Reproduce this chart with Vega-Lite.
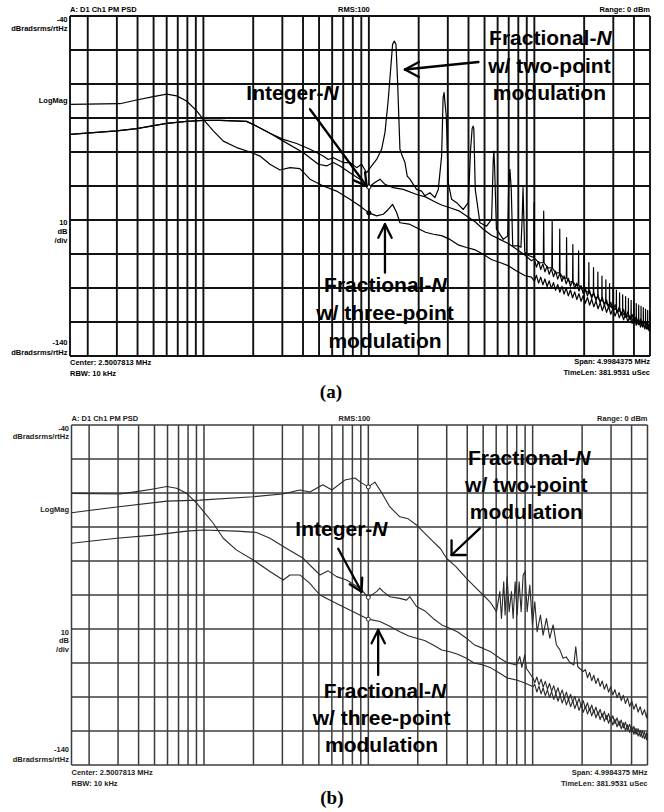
{
"$schema":"https://vega.github.io/schema/vega-lite/v6.json",
"width":664,"height":812,"autosize":"none","padding":0,"background":"white",
"config":{"view":{"stroke":null}},
"datasets":{
"gv":[{"f":1.5625},{"f":2},{"f":3},{"f":4},{"f":5},{"f":6},{"f":7},{"f":8},{"f":9},{"f":10},{"f":20},{"f":30},{"f":40},{"f":50},{"f":60},{"f":70},{"f":80},{"f":90},{"f":100},{"f":200},{"f":300},{"f":400},{"f":500},{"f":600},{"f":700},{"f":800},{"f":900},{"f":1000},{"f":2000},{"f":3000},{"f":4000},{"f":5000}],
"gh":[{"db":-40},{"db":-50},{"db":-60},{"db":-70},{"db":-80},{"db":-90},{"db":-100},{"db":-110},{"db":-120},{"db":-130},{"db":-140}],
"ca":[
{"s":"int","f":1.5625,"db":-74.8},{"s":"int","f":2.99,"db":-73.8},{"s":"int","f":3.95,"db":-73.1},{"s":"int","f":6.0,"db":-71.6},{"s":"int","f":7.92,"db":-71.0},{"s":"int","f":9.99,"db":-70.7},{"s":"int","f":12.6,"db":-70.7},{"s":"int","f":18.25,"db":-71.0},{"s":"int","f":20.98,"db":-72.4},{"s":"int","f":25.25,"db":-74.5},{"s":"int","f":30.4,"db":-76.8},{"s":"int","f":40.2,"db":-80.2},{"s":"int","f":49.5,"db":-83.6},{"s":"int","f":55.5,"db":-84.1},{"s":"int","f":60.9,"db":-83.1},{"s":"int","f":66.9,"db":-84.1},{"s":"int","f":76.8,"db":-86.1},{"s":"int","f":88.3,"db":-88.0},{"s":"int","f":100,"db":-90.3},{"s":"int","f":108.8,"db":-89.0},{"s":"int","f":116.7,"db":-88.0},{"s":"int","f":125.1,"db":-89.5},{"s":"int","f":140.4,"db":-90.5},{"s":"int","f":161.4,"db":-91.0},{"s":"int","f":194.3,"db":-92.5},{"s":"int","f":220,"db":-93.2},{"s":"int","f":245,"db":-94.4},{"s":"int","f":275,"db":-95.6},{"s":"int","f":309,"db":-96.4},{"s":"int","f":350,"db":-97.3},{"s":"int","f":389.6,"db":-98.8},{"s":"int","f":440,"db":-100.6},{"s":"int","f":491.4,"db":-102.7},{"s":"int","f":550,"db":-104.5},{"s":"int","f":619.4,"db":-105.7},{"s":"int","f":700,"db":-107.0},{"s":"int","f":781,"db":-108.6},{"s":"int","f":880,"db":-110.4},{"s":"int","f":960,"db":-112.0},
{"s":"int","f":1000,"db":-111.5},{"s":"int","f":1030,"db":-113.85},{"s":"int","f":1061,"db":-112.21},{"s":"int","f":1093,"db":-114.56},{"s":"int","f":1126,"db":-112.91},{"s":"int","f":1159,"db":-115.26},{"s":"int","f":1194,"db":-113.62},{"s":"int","f":1230,"db":-115.97},{"s":"int","f":1267,"db":-114.32},{"s":"int","f":1305,"db":-116.67},{"s":"int","f":1344,"db":-115.03},{"s":"int","f":1384,"db":-117.38},{"s":"int","f":1426,"db":-115.73},{"s":"int","f":1469,"db":-118.08},{"s":"int","f":1513,"db":-116.44},{"s":"int","f":1558,"db":-118.79},{"s":"int","f":1605,"db":-117.14},{"s":"int","f":1653,"db":-119.49},{"s":"int","f":1702,"db":-117.85},{"s":"int","f":1754,"db":-120.2},{"s":"int","f":1806,"db":-118.55},{"s":"int","f":1860,"db":-120.9},{"s":"int","f":1916,"db":-119.26},{"s":"int","f":1974,"db":-121.61},{"s":"int","f":2033,"db":-119.96},{"s":"int","f":2094,"db":-122.32},{"s":"int","f":2157,"db":-120.67},{"s":"int","f":2221,"db":-123.02},{"s":"int","f":2288,"db":-121.37},{"s":"int","f":2357,"db":-123.73},{"s":"int","f":2427,"db":-122.08},{"s":"int","f":2500,"db":-124.43},{"s":"int","f":2575,"db":-122.78},{"s":"int","f":2652,"db":-125.14},{"s":"int","f":2732,"db":-123.49},{"s":"int","f":2814,"db":-125.84},{"s":"int","f":2898,"db":-124.19},{"s":"int","f":2985,"db":-126.55},{"s":"int","f":3075,"db":-124.9},{"s":"int","f":3167,"db":-127.25},{"s":"int","f":3262,"db":-125.6},{"s":"int","f":3360,"db":-127.96},{"s":"int","f":3461,"db":-126.31},{"s":"int","f":3564,"db":-128.66},{"s":"int","f":3671,"db":-127.01},{"s":"int","f":3781,"db":-129.37},{"s":"int","f":3895,"db":-127.72},{"s":"int","f":4012,"db":-130.07},{"s":"int","f":4132,"db":-128.42},{"s":"int","f":4256,"db":-130.78},{"s":"int","f":4384,"db":-129.13},{"s":"int","f":4515,"db":-131.48},{"s":"int","f":4651,"db":-129.83},{"s":"int","f":4790,"db":-132.19},{"s":"int","f":4934,"db":-130.54},{"s":"int","f":5000,"db":-132.7},
{"s":"three","f":1.5625,"db":-66.0},{"s":"three","f":3.13,"db":-65.8},{"s":"three","f":3.95,"db":-64.7},{"s":"three","f":4.98,"db":-63.7},{"s":"three","f":6.0,"db":-63.0},{"s":"three","f":6.89,"db":-63.5},{"s":"three","f":7.92,"db":-65.0},{"s":"three","f":9.11,"db":-67.9},{"s":"three","f":9.99,"db":-70.4},{"s":"three","f":11.48,"db":-73.8},{"s":"three","f":13.19,"db":-76.8},{"s":"three","f":15.88,"db":-78.7},{"s":"three","f":19.12,"db":-80.0},{"s":"three","f":21.97,"db":-81.2},{"s":"three","f":25.25,"db":-83.6},{"s":"three","f":29.0,"db":-85.3},{"s":"three","f":33.4,"db":-84.6},{"s":"three","f":38.3,"db":-84.9},{"s":"three","f":44.1,"db":-88.0},{"s":"three","f":53.0,"db":-90.0},{"s":"three","f":63.8,"db":-91.5},{"s":"three","f":76.8,"db":-93.9},{"s":"three","f":88.3,"db":-95.9},{"s":"three","f":100,"db":-97.9},{"s":"three","f":111.4,"db":-98.8},{"s":"three","f":122.2,"db":-98.3},{"s":"three","f":131.0,"db":-96.9},{"s":"three","f":139.1,"db":-95.4},{"s":"three","f":147.1,"db":-97.8},{"s":"three","f":154.1,"db":-100.8},{"s":"three","f":175,"db":-101.2},{"s":"three","f":194.3,"db":-102.3},{"s":"three","f":220,"db":-103.6},{"s":"three","f":245,"db":-104.2},{"s":"three","f":275,"db":-104.6},{"s":"three","f":309,"db":-105.7},{"s":"three","f":350,"db":-107.4},{"s":"three","f":389.6,"db":-108.1},{"s":"three","f":440,"db":-108.8},{"s":"three","f":491.4,"db":-110.1},{"s":"three","f":550,"db":-111.6},{"s":"three","f":619.4,"db":-112.5},{"s":"three","f":700,"db":-113.5},{"s":"three","f":781,"db":-115.0},{"s":"three","f":880,"db":-116.4},{"s":"three","f":960,"db":-116.8},
{"s":"three","f":1000,"db":-118.0},{"s":"three","f":1030,"db":-116.27},{"s":"three","f":1061,"db":-118.54},{"s":"three","f":1093,"db":-116.81},{"s":"three","f":1126,"db":-119.08},{"s":"three","f":1159,"db":-117.35},{"s":"three","f":1194,"db":-119.62},{"s":"three","f":1230,"db":-117.89},{"s":"three","f":1267,"db":-120.16},{"s":"three","f":1305,"db":-118.43},{"s":"three","f":1344,"db":-120.7},{"s":"three","f":1384,"db":-118.97},{"s":"three","f":1426,"db":-121.24},{"s":"three","f":1469,"db":-119.51},{"s":"three","f":1513,"db":-121.78},{"s":"three","f":1558,"db":-120.05},{"s":"three","f":1605,"db":-122.32},{"s":"three","f":1653,"db":-120.59},{"s":"three","f":1702,"db":-122.86},{"s":"three","f":1754,"db":-121.13},{"s":"three","f":1806,"db":-123.4},{"s":"three","f":1860,"db":-121.67},{"s":"three","f":1916,"db":-123.94},{"s":"three","f":1974,"db":-122.21},{"s":"three","f":2033,"db":-124.48},{"s":"three","f":2094,"db":-122.75},{"s":"three","f":2157,"db":-125.02},{"s":"three","f":2221,"db":-123.29},{"s":"three","f":2288,"db":-125.56},{"s":"three","f":2357,"db":-123.83},{"s":"three","f":2427,"db":-126.1},{"s":"three","f":2500,"db":-124.37},{"s":"three","f":2575,"db":-126.64},{"s":"three","f":2652,"db":-124.91},{"s":"three","f":2732,"db":-127.18},{"s":"three","f":2814,"db":-125.45},{"s":"three","f":2898,"db":-127.72},{"s":"three","f":2985,"db":-125.99},{"s":"three","f":3075,"db":-128.26},{"s":"three","f":3167,"db":-126.53},{"s":"three","f":3262,"db":-128.8},{"s":"three","f":3360,"db":-127.07},{"s":"three","f":3461,"db":-129.34},{"s":"three","f":3564,"db":-127.61},{"s":"three","f":3671,"db":-129.88},{"s":"three","f":3781,"db":-128.15},{"s":"three","f":3895,"db":-130.42},{"s":"three","f":4012,"db":-128.69},{"s":"three","f":4132,"db":-130.96},{"s":"three","f":4256,"db":-129.23},{"s":"three","f":4384,"db":-131.5},{"s":"three","f":4515,"db":-129.77},{"s":"three","f":4651,"db":-132.04},{"s":"three","f":4790,"db":-130.31},{"s":"three","f":4934,"db":-132.58},{"s":"three","f":5000,"db":-131.0},
{"s":"two","f":1.5625,"db":-74.8},{"s":"two","f":2.99,"db":-73.8},{"s":"two","f":3.95,"db":-73.1},{"s":"two","f":6.0,"db":-71.6},{"s":"two","f":7.92,"db":-71.0},{"s":"two","f":9.99,"db":-70.7},{"s":"two","f":12.6,"db":-70.7},{"s":"two","f":18.25,"db":-71.0},{"s":"two","f":20.98,"db":-72.4},{"s":"two","f":25.25,"db":-74.5},{"s":"two","f":30.4,"db":-76.3},{"s":"two","f":36.6,"db":-77.5},{"s":"two","f":44.1,"db":-79.2},{"s":"two","f":53.0,"db":-81.2},{"s":"two","f":56.8,"db":-82.2},{"s":"two","f":60.9,"db":-81.7},{"s":"two","f":70.0,"db":-83.1},{"s":"two","f":76.8,"db":-83.1},{"s":"two","f":84.3,"db":-84.6},{"s":"two","f":90.4,"db":-83.6},{"s":"two","f":96.9,"db":-86.1},{"s":"two","f":103.9,"db":-84.1},{"s":"two","f":111.4,"db":-82.2},{"s":"two","f":119.4,"db":-79.2},{"s":"two","f":125.1,"db":-74.3},{"s":"two","f":131.0,"db":-64.5},{"s":"two","f":135.9,"db":-54.7},{"s":"two","f":139.1,"db":-48.3},{"s":"two","f":142.4,"db":-47.4},{"s":"two","f":145.8,"db":-48.3},{"s":"two","f":149.2,"db":-59.6},{"s":"two","f":154.1,"db":-79.2},{"s":"two","f":159.2,"db":-81.2},{"s":"two","f":165.2,"db":-83.1},{"s":"two","f":170.6,"db":-87.1},{"s":"two","f":177.2,"db":-88.0},{"s":"two","f":185.5,"db":-89.5},{"s":"two","f":194.3,"db":-91.0},{"s":"two","f":208.3,"db":-91.5},{"s":"two","f":218.1,"db":-92.9},{"s":"two","f":233.9,"db":-92.0},{"s":"two","f":250.7,"db":-93.4},{"s":"two","f":262.7,"db":-91.0},{"s":"two","f":275.2,"db":-81.2},{"s":"two","f":281.0,"db":-64.0},{"s":"two","f":284.8,"db":-62.5},{"s":"two","f":289.0,"db":-66.0},{"s":"two","f":293.6,"db":-69.4},{"s":"two","f":301.9,"db":-89.0},{"s":"two","f":316.2,"db":-93.9},{"s":"two","f":339.1,"db":-94.9},{"s":"two","f":372.0,"db":-96.9},{"s":"two","f":398.7,"db":-94.9},{"s":"two","f":411.9,"db":-79.2},{"s":"two","f":421.0,"db":-73.0},{"s":"two","f":427.2,"db":-72.4},{"s":"two","f":431.0,"db":-73.3},{"s":"two","f":439.5,"db":-91.0},{"s":"two","f":468.9,"db":-100.8},{"s":"two","f":514.5,"db":-101.8},{"s":"two","f":551.7,"db":-99.8},{"s":"two","f":564.7,"db":-82.2},{"s":"two","f":569.6,"db":-79.7},{"s":"two","f":575.0,"db":-84.1},{"s":"two","f":590.0,"db":-102.7},{"s":"two","f":648.8,"db":-105.7},{"s":"two","f":690.0,"db":-104.7},{"s":"two","f":698.9,"db":-91.0},{"s":"two","f":712.0,"db":-85.1},{"s":"two","f":725.3,"db":-91.0},{"s":"two","f":740.0,"db":-107.6},{"s":"two","f":799.2,"db":-107.6},{"s":"two","f":830.0,"db":-108.0},{"s":"two","f":845.0,"db":-98.8},{"s":"two","f":854.4,"db":-90.5},{"s":"two","f":862.0,"db":-98.0},{"s":"two","f":875.0,"db":-109.5},{"s":"two","f":930.0,"db":-110.5},
{"s":"two","f":990.8,"db":-111.0},{"s":"two","f":996.8,"db":-94.9},{"s":"two","f":1002.8,"db":-111.2},{"s":"two","f":1068,"db":-112.6},
{"s":"two","f":1133.2,"db":-112.5},{"s":"two","f":1139.2,"db":-97.4},{"s":"two","f":1145.2,"db":-112.7},{"s":"two","f":1210.4,"db":-114.1},
{"s":"two","f":1275.6,"db":-114.0},{"s":"two","f":1281.6,"db":-100.3},{"s":"two","f":1287.6,"db":-114.2},{"s":"two","f":1352.8,"db":-115.6},
{"s":"two","f":1418,"db":-115.5},{"s":"two","f":1424,"db":-102.7},{"s":"two","f":1430,"db":-115.7},{"s":"two","f":1495.2,"db":-117.1},
{"s":"two","f":1560.4,"db":-117.0},{"s":"two","f":1566.4,"db":-105.2},{"s":"two","f":1572.4,"db":-117.2},{"s":"two","f":1637.6,"db":-118.3},
{"s":"two","f":1702.8,"db":-118.0},{"s":"two","f":1708.8,"db":-107.2},{"s":"two","f":1714.8,"db":-118.2},{"s":"two","f":1780,"db":-119.3},
{"s":"two","f":1845.2,"db":-119.0},{"s":"two","f":1851.2,"db":-109.1},{"s":"two","f":1857.2,"db":-119.2},{"s":"two","f":1922.4,"db":-120.3},
{"s":"two","f":1987.6,"db":-120.0},{"s":"two","f":1993.6,"db":-110.6},{"s":"two","f":1999.6,"db":-120.2},{"s":"two","f":2064.8,"db":-121.3},
{"s":"two","f":2130,"db":-121.0},{"s":"two","f":2136,"db":-112.5},{"s":"two","f":2142,"db":-121.2},{"s":"two","f":2207.2,"db":-122.2},
{"s":"two","f":2272.4,"db":-121.8},{"s":"two","f":2278.4,"db":-114.0},{"s":"two","f":2284.4,"db":-122.0},{"s":"two","f":2349.6,"db":-123.0},
{"s":"two","f":2414.8,"db":-122.6},{"s":"two","f":2420.8,"db":-115.3},{"s":"two","f":2426.8,"db":-122.8},{"s":"two","f":2492,"db":-123.8},
{"s":"two","f":2557.2,"db":-123.3},{"s":"two","f":2563.2,"db":-116.5},{"s":"two","f":2569.2,"db":-123.5},{"s":"two","f":2634.4,"db":-124.5},
{"s":"two","f":2699.6,"db":-124.0},{"s":"two","f":2705.6,"db":-117.6},{"s":"two","f":2711.6,"db":-124.2},{"s":"two","f":2776.8,"db":-125.2},
{"s":"two","f":2842,"db":-124.7},{"s":"two","f":2848,"db":-118.7},{"s":"two","f":2854,"db":-124.9},{"s":"two","f":2919.2,"db":-125.8},
{"s":"two","f":2984.4,"db":-125.3},{"s":"two","f":2990.4,"db":-119.9},{"s":"two","f":2996.4,"db":-125.5},{"s":"two","f":3061.6,"db":-126.4},
{"s":"two","f":3126.8,"db":-125.9},{"s":"two","f":3132.8,"db":-120.6},{"s":"two","f":3138.8,"db":-126.1},{"s":"two","f":3204,"db":-127.0},
{"s":"two","f":3269.2,"db":-126.5},{"s":"two","f":3275.2,"db":-121.4},{"s":"two","f":3281.2,"db":-126.7},{"s":"two","f":3346.4,"db":-127.5},
{"s":"two","f":3411.6,"db":-127.0},{"s":"two","f":3417.6,"db":-122.0},{"s":"two","f":3423.6,"db":-127.2},{"s":"two","f":3488.8,"db":-128.0},
{"s":"two","f":3554,"db":-127.5},{"s":"two","f":3560,"db":-122.5},{"s":"two","f":3566,"db":-127.7},{"s":"two","f":3631.2,"db":-128.5},
{"s":"two","f":3696.4,"db":-128.0},{"s":"two","f":3702.4,"db":-123.1},{"s":"two","f":3708.4,"db":-128.2},{"s":"two","f":3773.6,"db":-129.0},
{"s":"two","f":3838.8,"db":-128.5},{"s":"two","f":3844.8,"db":-123.6},{"s":"two","f":3850.8,"db":-128.7},{"s":"two","f":3916,"db":-129.5},
{"s":"two","f":3981.2,"db":-129.0},{"s":"two","f":3987.2,"db":-124.1},{"s":"two","f":3993.2,"db":-129.2},{"s":"two","f":4058.4,"db":-129.9},
{"s":"two","f":4123.6,"db":-129.4},{"s":"two","f":4129.6,"db":-124.6},{"s":"two","f":4135.6,"db":-129.6},{"s":"two","f":4200.8,"db":-130.3},
{"s":"two","f":4266,"db":-129.8},{"s":"two","f":4272,"db":-125.0},{"s":"two","f":4278,"db":-130.0},{"s":"two","f":4343.2,"db":-130.7},
{"s":"two","f":4408.4,"db":-130.2},{"s":"two","f":4414.4,"db":-125.4},{"s":"two","f":4420.4,"db":-130.4},{"s":"two","f":4485.6,"db":-131.1},
{"s":"two","f":4550.8,"db":-130.6},{"s":"two","f":4556.8,"db":-125.8},{"s":"two","f":4562.8,"db":-130.8},{"s":"two","f":4628,"db":-131.5},
{"s":"two","f":4693.2,"db":-131.0},{"s":"two","f":4699.2,"db":-126.2},{"s":"two","f":4705.2,"db":-131.2},{"s":"two","f":4770.4,"db":-131.8},
{"s":"two","f":4835.6,"db":-131.3},{"s":"two","f":4841.6,"db":-126.6},{"s":"two","f":4847.6,"db":-131.5},{"s":"two","f":4912.8,"db":-132.1},
{"s":"two","f":4978,"db":-131.6},{"s":"two","f":4984,"db":-126.9},{"s":"two","f":4990,"db":-131.8},{"s":"two","f":5000,"db":-131.7}
],
"cb":[
{"s":"two","f":1.5625,"db":-65.8},{"s":"two","f":2.95,"db":-64.1},{"s":"two","f":5.95,"db":-62.4},{"s":"two","f":9.45,"db":-62.1},{"s":"two","f":19.86,"db":-61.1},{"s":"two","f":30,"db":-60.3},{"s":"two","f":38.35,"db":-59.1},{"s":"two","f":44.1,"db":-59.7},{"s":"two","f":52.9,"db":-57.6},{"s":"two","f":60.0,"db":-59.1},{"s":"two","f":72.0,"db":-56.2},{"s":"two","f":82.9,"db":-55.6},{"s":"two","f":91.4,"db":-57.1},{"s":"two","f":100,"db":-58.2},{"s":"two","f":109.7,"db":-56.8},{"s":"two","f":120.9,"db":-60.0},{"s":"two","f":135.3,"db":-64.1},{"s":"two","f":155.6,"db":-67.0},{"s":"two","f":175,"db":-67.6},{"s":"two","f":196.5,"db":-69.4},{"s":"two","f":220,"db":-71.8},{"s":"two","f":248.2,"db":-74.3},{"s":"two","f":275,"db":-76.4},{"s":"two","f":299.2,"db":-79.2},{"s":"two","f":340,"db":-81.6},{"s":"two","f":395.8,"db":-85.1},{"s":"two","f":450,"db":-87.8},{"s":"two","f":500,"db":-90.0},{"s":"two","f":550,"db":-92.0},{"s":"two","f":602.7,"db":-94.9},{"s":"two","f":631.5,"db":-89.0},{"s":"two","f":646,"db":-96.9},{"s":"two","f":667,"db":-86.1},{"s":"two","f":680,"db":-95.9},{"s":"two","f":699.7,"db":-84.6},{"s":"two","f":719.5,"db":-94.9},{"s":"two","f":743.5,"db":-89.0},{"s":"two","f":760.8,"db":-96.9},{"s":"two","f":782.7,"db":-86.1},{"s":"two","f":804.8,"db":-95.9},{"s":"two","f":827.8,"db":-86.1},{"s":"two","f":851.3,"db":-94.9},{"s":"two","f":875.3,"db":-84.1},{"s":"two","f":900.2,"db":-83.1},{"s":"two","f":925.8,"db":-94.9},{"s":"two","f":961,"db":-87.1},{"s":"two","f":997.7,"db":-98.8},{"s":"two","f":1030.6,"db":-92.0},{"s":"two","f":1064.8,"db":-100.8},{"s":"two","f":1115.8,"db":-95.9},{"s":"two","f":1158,"db":-101.8},{"s":"two","f":1213.9,"db":-96.9},{"s":"two","f":1271.7,"db":-102.7},{"s":"two","f":1332.5,"db":-98.8},{"s":"two","f":1396,"db":-104.7},{"s":"two","f":1460,"db":-106.0},{"s":"two","f":1533,"db":-108.6},{"s":"two","f":1600,"db":-108.2},{"s":"two","f":1683,"db":-109.8},{"s":"two","f":1780,"db":-110.6},{"s":"two","f":1830.6,"db":-105.2},{"s":"two","f":1882.8,"db":-111.1},{"s":"two","f":2029,"db":-112.5},
{"s":"two","f":2094,"db":-111.94},{"s":"two","f":2157,"db":-114.36},{"s":"two","f":2221,"db":-112.78},{"s":"two","f":2288,"db":-115.2},{"s":"two","f":2357,"db":-113.62},{"s":"two","f":2427,"db":-116.04},{"s":"two","f":2500,"db":-114.46},{"s":"two","f":2575,"db":-116.88},{"s":"two","f":2652,"db":-115.3},{"s":"two","f":2732,"db":-117.72},{"s":"two","f":2814,"db":-116.14},{"s":"two","f":2898,"db":-118.56},{"s":"two","f":2985,"db":-116.98},{"s":"two","f":3075,"db":-119.4},{"s":"two","f":3167,"db":-117.82},{"s":"two","f":3262,"db":-120.24},{"s":"two","f":3360,"db":-118.66},{"s":"two","f":3461,"db":-121.08},{"s":"two","f":3564,"db":-119.5},{"s":"two","f":3671,"db":-121.92},{"s":"two","f":3781,"db":-120.34},{"s":"two","f":3895,"db":-122.76},{"s":"two","f":4012,"db":-121.18},{"s":"two","f":4132,"db":-123.6},{"s":"two","f":4256,"db":-122.02},{"s":"two","f":4384,"db":-124.44},{"s":"two","f":4515,"db":-122.86},{"s":"two","f":4651,"db":-125.28},{"s":"two","f":4790,"db":-123.7},{"s":"two","f":4934,"db":-126.12},{"s":"two","f":5000,"db":-124.3},
{"s":"int","f":1.5625,"db":-74.8},{"s":"int","f":2.94,"db":-73.3},{"s":"int","f":4.92,"db":-72.4},{"s":"int","f":7.84,"db":-71.2},{"s":"int","f":9.90,"db":-70.9},{"s":"int","f":15.80,"db":-71.2},{"s":"int","f":20.90,"db":-71.6},{"s":"int","f":25.19,"db":-73.3},{"s":"int","f":31.83,"db":-76.3},{"s":"int","f":40.17,"db":-79.2},{"s":"int","f":47,"db":-82.5},{"s":"int","f":50.75,"db":-84.1},{"s":"int","f":57.0,"db":-82.9},{"s":"int","f":64.11,"db":-84.6},{"s":"int","f":73.73,"db":-85.6},{"s":"int","f":88.88,"db":-88.0},{"s":"int","f":100,"db":-90.7},{"s":"int","f":112.2,"db":-89.0},{"s":"int","f":117.6,"db":-88.0},{"s":"int","f":123.2,"db":-89.0},{"s":"int","f":135.3,"db":-90.5},{"s":"int","f":155.6,"db":-91.0},{"s":"int","f":170.8,"db":-91.5},{"s":"int","f":179,"db":-90.5},{"s":"int","f":196.5,"db":-93.4},{"s":"int","f":220,"db":-94.6},{"s":"int","f":248.2,"db":-96.9},{"s":"int","f":280,"db":-98.8},{"s":"int","f":313.4,"db":-99.8},{"s":"int","f":350,"db":-100.9},{"s":"int","f":395.8,"db":-102.7},{"s":"int","f":440,"db":-104.6},{"s":"int","f":500,"db":-105.7},{"s":"int","f":560,"db":-106.8},{"s":"int","f":631.5,"db":-108.6},{"s":"int","f":700,"db":-109.9},{"s":"int","f":797.2,"db":-110.6},{"s":"int","f":835.3,"db":-108.1},{"s":"int","f":860,"db":-111.3},{"s":"int","f":896,"db":-107.6},{"s":"int","f":917,"db":-111.6},{"s":"int","f":1006.9,"db":-114.5},
{"s":"int","f":1030,"db":-115.82},{"s":"int","f":1061,"db":-114.13},{"s":"int","f":1093,"db":-116.45},{"s":"int","f":1126,"db":-114.76},{"s":"int","f":1159,"db":-117.08},{"s":"int","f":1194,"db":-115.4},{"s":"int","f":1230,"db":-117.71},{"s":"int","f":1267,"db":-116.03},{"s":"int","f":1305,"db":-118.34},{"s":"int","f":1344,"db":-116.66},{"s":"int","f":1384,"db":-118.97},{"s":"int","f":1426,"db":-117.29},{"s":"int","f":1469,"db":-119.61},{"s":"int","f":1513,"db":-117.92},{"s":"int","f":1558,"db":-120.24},{"s":"int","f":1605,"db":-118.55},{"s":"int","f":1653,"db":-120.87},{"s":"int","f":1702,"db":-119.19},{"s":"int","f":1754,"db":-121.5},{"s":"int","f":1806,"db":-119.82},{"s":"int","f":1860,"db":-122.13},{"s":"int","f":1916,"db":-120.45},{"s":"int","f":1974,"db":-122.77},{"s":"int","f":2033,"db":-121.08},{"s":"int","f":2094,"db":-123.4},{"s":"int","f":2157,"db":-121.71},{"s":"int","f":2221,"db":-124.03},{"s":"int","f":2288,"db":-122.35},{"s":"int","f":2357,"db":-124.66},{"s":"int","f":2427,"db":-122.98},{"s":"int","f":2500,"db":-125.29},{"s":"int","f":2575,"db":-123.61},{"s":"int","f":2652,"db":-125.92},{"s":"int","f":2732,"db":-124.24},{"s":"int","f":2814,"db":-126.56},{"s":"int","f":2898,"db":-124.87},{"s":"int","f":2985,"db":-127.19},{"s":"int","f":3075,"db":-125.5},{"s":"int","f":3167,"db":-127.82},{"s":"int","f":3262,"db":-126.14},{"s":"int","f":3360,"db":-128.45},{"s":"int","f":3461,"db":-126.77},{"s":"int","f":3564,"db":-129.08},{"s":"int","f":3671,"db":-127.4},{"s":"int","f":3781,"db":-129.72},{"s":"int","f":3895,"db":-128.03},{"s":"int","f":4012,"db":-130.35},{"s":"int","f":4132,"db":-128.66},{"s":"int","f":4256,"db":-130.98},{"s":"int","f":4384,"db":-129.3},{"s":"int","f":4515,"db":-131.61},{"s":"int","f":4651,"db":-129.93},{"s":"int","f":4790,"db":-132.24},{"s":"int","f":4934,"db":-130.56},{"s":"int","f":5000,"db":-132.7},
{"s":"three","f":1.5625,"db":-60.1},{"s":"three","f":3.08,"db":-60.3},{"s":"three","f":3.89,"db":-59.6},{"s":"three","f":4.92,"db":-58.8},{"s":"three","f":5.93,"db":-58.1},{"s":"three","f":6.82,"db":-58.6},{"s":"three","f":7.84,"db":-60.1},{"s":"three","f":9.02,"db":-63.0},{"s":"three","f":9.90,"db":-65.3},{"s":"three","f":11.39,"db":-68.9},{"s":"three","f":13.10,"db":-73.3},{"s":"three","f":15.80,"db":-76.8},{"s":"three","f":19.95,"db":-79.7},{"s":"three","f":25.19,"db":-83.1},{"s":"three","f":30.36,"db":-85.6},{"s":"three","f":33.33,"db":-84.1},{"s":"three","f":38.35,"db":-84.1},{"s":"three","f":44.11,"db":-86.6},{"s":"three","f":50.75,"db":-90.0},{"s":"three","f":64.11,"db":-92.5},{"s":"three","f":80.95,"db":-94.9},{"s":"three","f":100,"db":-97.1},{"s":"three","f":117.6,"db":-97.8},{"s":"three","f":135,"db":-99.2},{"s":"three","f":155.6,"db":-100.8},{"s":"three","f":175,"db":-102.0},{"s":"three","f":196.5,"db":-102.7},{"s":"three","f":220,"db":-103.4},{"s":"three","f":248.2,"db":-104.7},{"s":"three","f":280,"db":-106.2},{"s":"three","f":313.4,"db":-106.7},{"s":"three","f":350,"db":-107.4},{"s":"three","f":395.8,"db":-108.6},{"s":"three","f":440,"db":-110.0},{"s":"three","f":500,"db":-110.6},{"s":"three","f":560,"db":-111.5},{"s":"three","f":631.5,"db":-113.0},{"s":"three","f":700,"db":-114.4},{"s":"three","f":797.2,"db":-115.0},{"s":"three","f":890,"db":-115.8},{"s":"three","f":1006.9,"db":-117.0},
{"s":"three","f":1030,"db":-116.27},{"s":"three","f":1061,"db":-118.54},{"s":"three","f":1093,"db":-116.81},{"s":"three","f":1126,"db":-119.08},{"s":"three","f":1159,"db":-117.35},{"s":"three","f":1194,"db":-119.62},{"s":"three","f":1230,"db":-117.89},{"s":"three","f":1267,"db":-120.16},{"s":"three","f":1305,"db":-118.43},{"s":"three","f":1344,"db":-120.7},{"s":"three","f":1384,"db":-118.97},{"s":"three","f":1426,"db":-121.24},{"s":"three","f":1469,"db":-119.51},{"s":"three","f":1513,"db":-121.78},{"s":"three","f":1558,"db":-120.05},{"s":"three","f":1605,"db":-122.32},{"s":"three","f":1653,"db":-120.59},{"s":"three","f":1702,"db":-122.86},{"s":"three","f":1754,"db":-121.13},{"s":"three","f":1806,"db":-123.4},{"s":"three","f":1860,"db":-121.67},{"s":"three","f":1916,"db":-123.94},{"s":"three","f":1974,"db":-122.21},{"s":"three","f":2033,"db":-124.48},{"s":"three","f":2094,"db":-122.75},{"s":"three","f":2157,"db":-125.02},{"s":"three","f":2221,"db":-123.29},{"s":"three","f":2288,"db":-125.56},{"s":"three","f":2357,"db":-123.83},{"s":"three","f":2427,"db":-126.1},{"s":"three","f":2500,"db":-124.37},{"s":"three","f":2575,"db":-126.64},{"s":"three","f":2652,"db":-124.91},{"s":"three","f":2732,"db":-127.18},{"s":"three","f":2814,"db":-125.45},{"s":"three","f":2898,"db":-127.72},{"s":"three","f":2985,"db":-125.99},{"s":"three","f":3075,"db":-128.26},{"s":"three","f":3167,"db":-126.53},{"s":"three","f":3262,"db":-128.8},{"s":"three","f":3360,"db":-127.07},{"s":"three","f":3461,"db":-129.34},{"s":"three","f":3564,"db":-127.61},{"s":"three","f":3671,"db":-129.88},{"s":"three","f":3781,"db":-128.15},{"s":"three","f":3895,"db":-130.42},{"s":"three","f":4012,"db":-128.69},{"s":"three","f":4132,"db":-130.96},{"s":"three","f":4256,"db":-129.23},{"s":"three","f":4384,"db":-131.5},{"s":"three","f":4515,"db":-129.77},{"s":"three","f":4651,"db":-132.04},{"s":"three","f":4790,"db":-130.31},{"s":"three","f":4934,"db":-132.58},{"s":"three","f":5000,"db":-131.0}
],
"mk":[{"p":"a","s":"int","f":100,"db":-90.3},{"p":"a","s":"three","f":100,"db":-97.9},{"p":"b","s":"two","f":100,"db":-58.2},{"p":"b","s":"int","f":100,"db":-90.7},{"p":"b","s":"three","f":100,"db":-97.1}],
"ar":[
{"p":"a","f1":459.2,"d1":-53.53,"f2":165.2,"d2":-55.74},{"p":"a","f1":165.2,"d1":-55.74,"f2":200.8,"d2":-53.53},{"p":"a","f1":165.2,"d1":-55.74,"f2":200.8,"d2":-57.94},
{"p":"a","f1":44.06,"d1":-67.44,"f2":96.9,"d2":-90.0},{"p":"a","f1":96.9,"d1":-90.0,"f2":94.8,"d2":-85.91},{"p":"a","f1":96.9,"d1":-90.0,"f2":81.1,"d2":-88.35},
{"p":"a","f1":125.1,"d1":-115.5,"f2":125.1,"d2":-101.26},{"p":"a","f1":125.1,"d1":-101.26,"f2":114.0,"d2":-105.2},{"p":"a","f1":125.1,"d1":-101.26,"f2":137.3,"d2":-105.2},
{"p":"b","f1":477,"d1":-70.38,"f2":321.1,"d2":-78.24},{"p":"b","f1":321.1,"d1":-78.24,"f2":321.1,"d2":-73.97},{"p":"b","f1":321.1,"d1":-78.24,"f2":392,"d2":-78.24},
{"p":"b","f1":65.58,"d1":-76.38,"f2":91.0,"d2":-89.03},{"p":"b","f1":91.0,"d1":-89.03,"f2":91.8,"d2":-84.91},{"p":"b","f1":91.0,"d1":-89.03,"f2":77.1,"d2":-86.82},
{"p":"b","f1":114.8,"d1":-113.53,"f2":114.8,"d2":-100.29},{"p":"b","f1":114.8,"d1":-100.29,"f2":104.7,"d2":-104.2},{"p":"b","f1":114.8,"d1":-100.29,"f2":126.1,"d2":-104.2}
],
"tx":[
{"p":"a","r":"smL","f":1.5625,"db":-38.97,"t":"A: D1 Ch1 PM PSD"},
{"p":"a","r":"smC","f":81.2,"db":-38.97,"t":"RMS:100"},
{"p":"a","r":"smR","f":5000,"db":-38.97,"t":"Range: 0 dBm"},
{"p":"a","r":"smR","f":1.509,"db":-41.76,"t":"-40"},
{"p":"a","r":"smR","f":1.509,"db":-44.41,"t":"dBradsrms/rtHz"},
{"p":"a","r":"smR","f":1.509,"db":-65.59,"t":"LogMag"},
{"p":"a","r":"smR","f":1.509,"db":-101.47,"t":"10"},
{"p":"a","r":"smR","f":1.509,"db":-104.12,"t":"dB"},
{"p":"a","r":"smR","f":1.509,"db":-106.76,"t":"/div"},
{"p":"a","r":"smR","f":1.509,"db":-136.76,"t":"-140"},
{"p":"a","r":"smR","f":1.509,"db":-139.71,"t":"dBradsrms/rtHz"},
{"p":"a","r":"smL","f":1.5625,"db":-142.65,"t":"Center: 2.5007813 MHz"},
{"p":"a","r":"smL","f":1.5625,"db":-145.88,"t":"RBW: 10 kHz"},
{"p":"a","r":"smR","f":5000,"db":-142.35,"t":"Span: 4.9984375 MHz"},
{"p":"a","r":"smR","f":5000,"db":-145.59,"t":"TimeLen: 381.9531 uSec"},
{"p":"a","r":"bigR","f":2372,"db":-48.53,"t":"Fractional-"},
{"p":"a","r":"bigN","f":2372,"db":-48.53,"t":"N"},
{"p":"a","r":"big","f":1233,"db":-56.62,"t":"w/ two-point"},
{"p":"a","r":"big","f":1233,"db":-64.71,"t":"modulation"},
{"p":"a","r":"bigR","f":53.1,"db":-64.56,"t":"Integer-"},
{"p":"a","r":"bigN","f":53.1,"db":-64.56,"t":"N"},
{"p":"a","r":"bigR","f":238.9,"db":-121.32,"t":"Fractional-"},
{"p":"a","r":"bigN","f":238.9,"db":-121.32,"t":"N"},
{"p":"a","r":"big","f":125.1,"db":-129.41,"t":"w/ three-point"},
{"p":"a","r":"big","f":125.1,"db":-137.5,"t":"modulation"},
{"p":"a","r":"cap","f":59.0,"db":-152.35,"t":"(a)"},
{"p":"b","r":"smL","f":1.5625,"db":-38.97,"t":"A: D1 Ch1 PM PSD"},
{"p":"b","r":"smC","f":82.3,"db":-38.97,"t":"RMS:100"},
{"p":"b","r":"smR","f":5000,"db":-38.97,"t":"Range: 0 dBm"},
{"p":"b","r":"smR","f":1.509,"db":-41.76,"t":"-40"},
{"p":"b","r":"smR","f":1.509,"db":-44.12,"t":"dBradsrms/rtHz"},
{"p":"b","r":"smR","f":1.509,"db":-65.59,"t":"LogMag"},
{"p":"b","r":"smR","f":1.509,"db":-101.62,"t":"10"},
{"p":"b","r":"smR","f":1.509,"db":-104.12,"t":"dB"},
{"p":"b","r":"smR","f":1.509,"db":-106.62,"t":"/div"},
{"p":"b","r":"smR","f":1.509,"db":-136.18,"t":"-140"},
{"p":"b","r":"smR","f":1.509,"db":-139.12,"t":"dBradsrms/rtHz"},
{"p":"b","r":"smL","f":1.5625,"db":-142.94,"t":"Center: 2.5007813 MHz"},
{"p":"b","r":"smL","f":1.5625,"db":-146.03,"t":"RBW: 10 kHz"},
{"p":"b","r":"smR","f":5000,"db":-142.94,"t":"Span: 4.9984375 MHz"},
{"p":"b","r":"smR","f":5000,"db":-146.18,"t":"TimeLen: 381.9531 uSec"},
{"p":"b","r":"bigR","f":1818,"db":-51.76,"t":"Fractional-"},
{"p":"b","r":"bigN","f":1818,"db":-51.76,"t":"N"},
{"p":"b","r":"big","f":915,"db":-59.71,"t":"w/ two-point"},
{"p":"b","r":"big","f":915,"db":-67.79,"t":"modulation"},
{"p":"b","r":"bigR","f":105.8,"db":-72.79,"t":"Integer-"},
{"p":"b","r":"bigN","f":105.8,"db":-72.79,"t":"N"},
{"p":"b","r":"bigR","f":240.9,"db":-120.15,"t":"Fractional-"},
{"p":"b","r":"bigN","f":240.9,"db":-120.15,"t":"N"},
{"p":"b","r":"big","f":120.4,"db":-128.24,"t":"w/ three-point"},
{"p":"b","r":"big","f":120.4,"db":-136.32,"t":"modulation"},
{"p":"b","r":"cap","f":60.0,"db":-151.6,"t":"(b)"}
]
},
"layer":[
{"layer":[
{"data":{"name":"gv"},"mark":{"type":"rule","stroke":"#111","strokeWidth":1.9},"encoding":{"x":{"field":"f","type":"quantitative","scale":{"type":"log","domain":[1.5625,5000],"range":[70,650],"nice":false},"axis":null},"y":{"datum":-140,"type":"quantitative","scale":{"type":"linear","domain":[-140,-40],"range":[356,16],"nice":false,"zero":false},"axis":null},"y2":{"datum":-40}}},
{"data":{"name":"gh"},"mark":{"type":"rule","stroke":"#111","strokeWidth":1.9},"encoding":{"y":{"field":"db","type":"quantitative","axis":null},"x":{"datum":1.5625,"type":"quantitative","axis":null},"x2":{"datum":5000}}},
{"data":{"name":"ca"},"mark":{"type":"line","stroke":"#000","strokeWidth":1.2,"strokeJoin":"round"},"encoding":{"x":{"field":"f","type":"quantitative","axis":null},"y":{"field":"db","type":"quantitative","axis":null},"detail":{"field":"s"}}},
{"data":{"name":"mk"},"transform":[{"filter":"datum.p=='a'"}],"mark":{"type":"point","shape":"circle","size":18,"stroke":"#000","strokeWidth":1,"filled":true,"opacity":1},"encoding":{"x":{"field":"f","type":"quantitative","axis":null},"y":{"field":"db","type":"quantitative","axis":null},"fill":{"condition":{"test":"datum.s=='three'","value":"#000"},"value":"#fff"}}},
{"data":{"name":"ar"},"transform":[{"filter":"datum.p=='a'"}],"mark":{"type":"rule","stroke":"#000","strokeWidth":2.3,"strokeCap":"round"},"encoding":{"x":{"field":"f1","type":"quantitative","axis":null},"y":{"field":"d1","type":"quantitative","axis":null},"x2":{"field":"f2"},"y2":{"field":"d2"}}},
{"data":{"name":"tx"},"transform":[{"filter":"datum.p=='a' && datum.r=='smL'"}],"mark":{"type":"text","align":"left","baseline":"alphabetic","font":"Liberation Sans","fontSize":7.5,"fontWeight":"bold","fill":"#000"},"encoding":{"x":{"field":"f","type":"quantitative","axis":null},"y":{"field":"db","type":"quantitative","axis":null},"text":{"field":"t","type":"nominal"}}},
{"data":{"name":"tx"},"transform":[{"filter":"datum.p=='a' && datum.r=='smC'"}],"mark":{"type":"text","align":"center","baseline":"alphabetic","font":"Liberation Sans","fontSize":7.5,"fontWeight":"bold","fill":"#000"},"encoding":{"x":{"field":"f","type":"quantitative","axis":null},"y":{"field":"db","type":"quantitative","axis":null},"text":{"field":"t","type":"nominal"}}},
{"data":{"name":"tx"},"transform":[{"filter":"datum.p=='a' && datum.r=='smR'"}],"mark":{"type":"text","align":"right","baseline":"alphabetic","font":"Liberation Sans","fontSize":7.5,"fontWeight":"bold","fill":"#000"},"encoding":{"x":{"field":"f","type":"quantitative","axis":null},"y":{"field":"db","type":"quantitative","axis":null},"text":{"field":"t","type":"nominal"}}},
{"data":{"name":"tx"},"transform":[{"filter":"datum.p=='a' && datum.r=='big'"}],"mark":{"type":"text","align":"center","baseline":"alphabetic","font":"Liberation Sans","fontSize":21,"fontWeight":"bold","fill":"#000"},"encoding":{"x":{"field":"f","type":"quantitative","axis":null},"y":{"field":"db","type":"quantitative","axis":null},"text":{"field":"t","type":"nominal"}}},
{"data":{"name":"tx"},"transform":[{"filter":"datum.p=='a' && datum.r=='bigR'"}],"mark":{"type":"text","align":"right","baseline":"alphabetic","font":"Liberation Sans","fontSize":21,"fontWeight":"bold","fill":"#000"},"encoding":{"x":{"field":"f","type":"quantitative","axis":null},"y":{"field":"db","type":"quantitative","axis":null},"text":{"field":"t","type":"nominal"}}},
{"data":{"name":"tx"},"transform":[{"filter":"datum.p=='a' && datum.r=='bigN'"}],"mark":{"type":"text","align":"left","baseline":"alphabetic","font":"Liberation Sans","fontSize":21,"fontWeight":"bold","fontStyle":"italic","fill":"#000"},"encoding":{"x":{"field":"f","type":"quantitative","axis":null},"y":{"field":"db","type":"quantitative","axis":null},"text":{"field":"t","type":"nominal"}}},
{"data":{"name":"tx"},"transform":[{"filter":"datum.p=='a' && datum.r=='cap'"}],"mark":{"type":"text","align":"center","baseline":"alphabetic","font":"Liberation Serif","fontSize":19,"fontWeight":"bold","fill":"#000"},"encoding":{"x":{"field":"f","type":"quantitative","axis":null},"y":{"field":"db","type":"quantitative","axis":null},"text":{"field":"t","type":"nominal"}}}
]},
{"layer":[
{"data":{"name":"gv"},"mark":{"type":"rule","stroke":"#3c3c3c","strokeWidth":1.5},"encoding":{"x":{"field":"f","type":"quantitative","scale":{"type":"log","domain":[1.5625,5000],"range":[71.5,647.5],"nice":false},"axis":null},"y":{"datum":-140,"type":"quantitative","scale":{"type":"linear","domain":[-140,-40],"range":[765,425],"nice":false,"zero":false},"axis":null},"y2":{"datum":-40}}},
{"data":{"name":"gh"},"mark":{"type":"rule","stroke":"#3c3c3c","strokeWidth":1.5},"encoding":{"y":{"field":"db","type":"quantitative","axis":null},"x":{"datum":1.5625,"type":"quantitative","axis":null},"x2":{"datum":5000}}},
{"data":{"name":"cb"},"mark":{"type":"line","stroke":"#2a2a2a","strokeWidth":1.1,"strokeJoin":"round"},"encoding":{"x":{"field":"f","type":"quantitative","axis":null},"y":{"field":"db","type":"quantitative","axis":null},"detail":{"field":"s"}}},
{"data":{"name":"mk"},"transform":[{"filter":"datum.p=='b'"}],"mark":{"type":"point","shape":"circle","size":16,"stroke":"#222","strokeWidth":1,"filled":true,"opacity":1,"fill":"#fff"},"encoding":{"x":{"field":"f","type":"quantitative","axis":null},"y":{"field":"db","type":"quantitative","axis":null}}},
{"data":{"name":"ar"},"transform":[{"filter":"datum.p=='b'"}],"mark":{"type":"rule","stroke":"#000","strokeWidth":2.3,"strokeCap":"round"},"encoding":{"x":{"field":"f1","type":"quantitative","axis":null},"y":{"field":"d1","type":"quantitative","axis":null},"x2":{"field":"f2"},"y2":{"field":"d2"}}},
{"data":{"name":"tx"},"transform":[{"filter":"datum.p=='b' && datum.r=='smL'"}],"mark":{"type":"text","align":"left","baseline":"alphabetic","font":"Liberation Sans","fontSize":7.5,"fontWeight":"bold","fill":"#222"},"encoding":{"x":{"field":"f","type":"quantitative","axis":null},"y":{"field":"db","type":"quantitative","axis":null},"text":{"field":"t","type":"nominal"}}},
{"data":{"name":"tx"},"transform":[{"filter":"datum.p=='b' && datum.r=='smC'"}],"mark":{"type":"text","align":"center","baseline":"alphabetic","font":"Liberation Sans","fontSize":7.5,"fontWeight":"bold","fill":"#222"},"encoding":{"x":{"field":"f","type":"quantitative","axis":null},"y":{"field":"db","type":"quantitative","axis":null},"text":{"field":"t","type":"nominal"}}},
{"data":{"name":"tx"},"transform":[{"filter":"datum.p=='b' && datum.r=='smR'"}],"mark":{"type":"text","align":"right","baseline":"alphabetic","font":"Liberation Sans","fontSize":7.5,"fontWeight":"bold","fill":"#222"},"encoding":{"x":{"field":"f","type":"quantitative","axis":null},"y":{"field":"db","type":"quantitative","axis":null},"text":{"field":"t","type":"nominal"}}},
{"data":{"name":"tx"},"transform":[{"filter":"datum.p=='b' && datum.r=='big'"}],"mark":{"type":"text","align":"center","baseline":"alphabetic","font":"Liberation Sans","fontSize":21,"fontWeight":"bold","fill":"#000"},"encoding":{"x":{"field":"f","type":"quantitative","axis":null},"y":{"field":"db","type":"quantitative","axis":null},"text":{"field":"t","type":"nominal"}}},
{"data":{"name":"tx"},"transform":[{"filter":"datum.p=='b' && datum.r=='bigR'"}],"mark":{"type":"text","align":"right","baseline":"alphabetic","font":"Liberation Sans","fontSize":21,"fontWeight":"bold","fill":"#000"},"encoding":{"x":{"field":"f","type":"quantitative","axis":null},"y":{"field":"db","type":"quantitative","axis":null},"text":{"field":"t","type":"nominal"}}},
{"data":{"name":"tx"},"transform":[{"filter":"datum.p=='b' && datum.r=='bigN'"}],"mark":{"type":"text","align":"left","baseline":"alphabetic","font":"Liberation Sans","fontSize":21,"fontWeight":"bold","fontStyle":"italic","fill":"#000"},"encoding":{"x":{"field":"f","type":"quantitative","axis":null},"y":{"field":"db","type":"quantitative","axis":null},"text":{"field":"t","type":"nominal"}}},
{"data":{"name":"tx"},"transform":[{"filter":"datum.p=='b' && datum.r=='cap'"}],"mark":{"type":"text","align":"center","baseline":"alphabetic","font":"Liberation Serif","fontSize":19,"fontWeight":"bold","fill":"#000"},"encoding":{"x":{"field":"f","type":"quantitative","axis":null},"y":{"field":"db","type":"quantitative","axis":null},"text":{"field":"t","type":"nominal"}}}
]}
],
"resolve":{"scale":{"x":"independent","y":"independent"}}
}
